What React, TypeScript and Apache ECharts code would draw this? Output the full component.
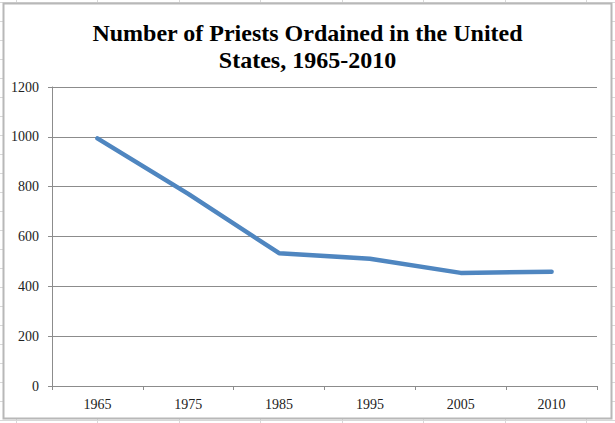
import React, { useEffect, useRef } from "react";
import * as echarts from "echarts";

const years = ["1965", "1975", "1985", "1995", "2005", "2010"];
const ordained = [994, 771, 533, 511, 454, 459];
const yTicks = { min: 0, max: 1200, interval: 200 };
const titleText = "Number of Priests Ordained in the United\nStates, 1965-2010";

export default function App() {
  const ref = useRef<HTMLDivElement>(null);
  useEffect(() => {
    document.body.style.margin = "0";
    const chart = echarts.init(ref.current!, null, { renderer: "svg" });
    const W = 615;
    const H = 423;
    const sheetLines: any[] = [];
    for (let x = 15.5; x < W; x += 81.5) {
      sheetLines.push({ type: "line", z: -10, shape: { x1: Math.round(x) + 0.5, y1: 0, x2: Math.round(x) + 0.5, y2: H }, style: { stroke: "#d8d8d8", lineWidth: 1 }, silent: true });
    }
    for (let y = 1.5; y < H; y += 19) {
      sheetLines.push({ type: "line", z: -10, shape: { x1: 0, y1: Math.round(y) + 0.5, x2: W, y2: Math.round(y) + 0.5 }, style: { stroke: "#d8d8d8", lineWidth: 1 }, silent: true });
    }
    chart.setOption({
      animation: false,
      backgroundColor: "#ffffff",
      title: {
        text: titleText,
        left: "center",
        top: 14,
        textStyle: {
          fontFamily: "Liberation Serif",
          fontWeight: "bold",
          fontSize: 24,
          lineHeight: 27,
          color: "#000000",
        },
      },
      graphic: [
        ...sheetLines,
        {
          type: "rect",
          z: -5,
          shape: { x: 3.5, y: 3.5, width: 608, height: 415 },
          style: { fill: "#ffffff", stroke: "#b8b8b8", lineWidth: 2 },
          silent: true,
        },
      ],
      grid: { left: 52, right: 18, top: 87, bottom: 37 },
      xAxis: {
        type: "category",
        data: years,
        boundaryGap: true,
        axisLine: { lineStyle: { color: "#8c8c8c", width: 1 } },
        axisTick: { show: true, length: 4, lineStyle: { color: "#8c8c8c" } },
        axisLabel: { fontFamily: "Liberation Serif", fontSize: 14, color: "#222222", margin: 11 },
      },
      yAxis: {
        type: "value",
        min: yTicks.min,
        max: yTicks.max,
        interval: yTicks.interval,
        axisLine: { show: true, lineStyle: { color: "#8c8c8c", width: 1 } },
        axisTick: { show: true, length: 4, lineStyle: { color: "#8c8c8c" } },
        splitLine: { lineStyle: { color: "#8c8c8c", width: 1 } },
        axisLabel: {
          fontFamily: "Liberation Serif",
          fontSize: 14,
          color: "#222222",
          margin: 13,
          formatter: (v: number) => String(v),
        },
      },
      series: [
        {
          type: "line",
          data: ordained,
          showSymbol: false,
          symbol: "none",
          lineStyle: { color: "#4f86c0", width: 4.5, cap: "round", join: "round" },
        },
      ],
    });
    return () => chart.dispose();
  }, []);
  return <div ref={ref} style={{ width: 615, height: 423 }} />;
}
